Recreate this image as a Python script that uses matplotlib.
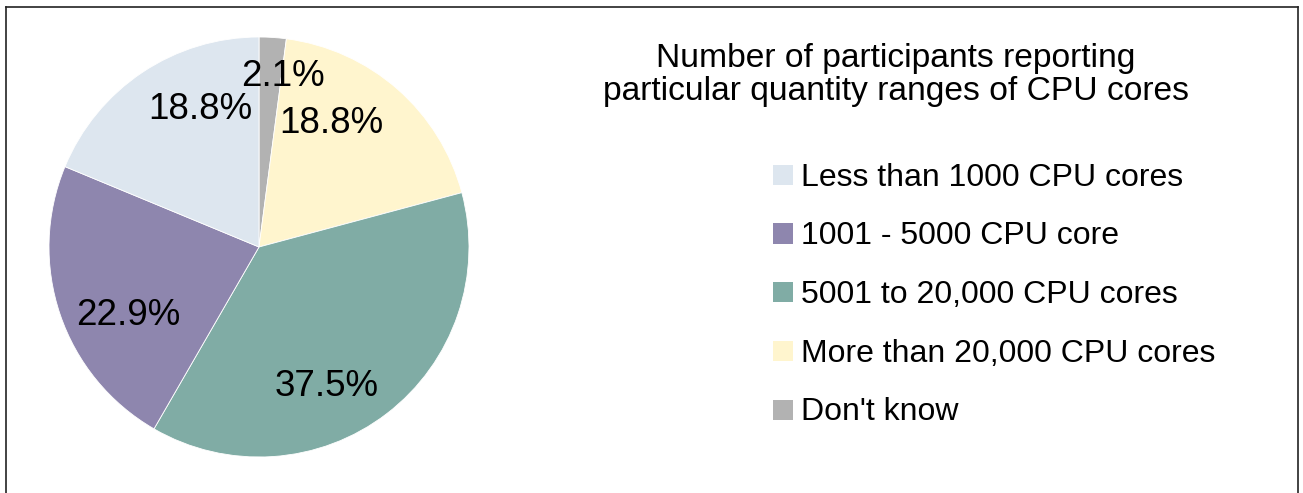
import matplotlib.pyplot as plt
import matplotlib.patches as patches
from matplotlib.lines import Line2D
import numpy as np

plt.rcParams['font.family'] = ['Liberation Sans', 'DejaVu Sans']

# Survey answers (number of participants), in clockwise order from 12 o'clock
slice_labels = ["Don't know", "More than 20,000 CPU cores", "5001 to 20,000 CPU cores",
                "1001 - 5000 CPU core", "Less than 1000 CPU cores"]
slice_counts = [1, 9, 18, 11, 9]
slice_colors = ["#b2b2b2", "#fff5ce", "#80aca5", "#8e86ae", "#dde6ef"]

# Legend order
legend_labels = ["Less than 1000 CPU cores", "1001 - 5000 CPU core", "5001 to 20,000 CPU cores",
                 "More than 20,000 CPU cores", "Don't know"]

title = "Number of participants reporting\nparticular quantity ranges of CPU cores"

W, H = 1303, 493
fig = plt.figure(figsize=(W / 100, H / 100), dpi=100)

# frame around the chart (bottom edge falls outside the image)
bx0, bx1, by = 5.5 / W, 1297.5 / W, 1 - 6.5 / H
for xs, ys in [([bx0, bx0], [-0.1, by]), ([bx0, bx1], [by, by]), ([bx1, bx1], [by, -0.1])]:
    fig.add_artist(Line2D(xs, ys, color="#222222", lw=1.2, transform=fig.transFigure))

# pie: centre at (259, 247) px, radius 210 px
cx, cy, r = 259, 247, 210
ax = fig.add_axes([(cx - r) / W, (H - cy - r) / H, 2 * r / W, 2 * r / H])
wedges, _ = ax.pie(slice_counts, colors=slice_colors, startangle=90, counterclock=False,
                   radius=1, wedgeprops=dict(linewidth=0.6, edgecolor="white"))
ax.set_xlim(-1, 1)
ax.set_ylim(-1, 1)
ax.set_aspect("equal")
ax.axis("off")

# percentage labels: placed relative to each wedge's mid angle
total = sum(slice_counts)
label_dist = [0.83, 0.69, 0.73, 0.70, 0.72]
label_turn = [4.1, -11.4, 11.5, -8.1, 10.8]   # degrees, clockwise shift from mid angle
for w, n, d, t in zip(wedges, slice_counts, label_dist, label_turn):
    mid = 0.5 * (w.theta1 + w.theta2) - t
    a = np.deg2rad(mid)
    ax.text(d * np.cos(a), d * np.sin(a) - 0.008, f"{100 * n / total:.1f}%",
            ha="center", va="center", fontsize=26.5, color="black")

# title
fig.text(896 / W, 1 - 75 / H, title, ha="center", va="center", fontsize=24.2,
         linespacing=1.1, color="black")

# legend
row_y = [175, 233.5, 292, 351, 409.5]
colors_by_label = dict(zip(slice_labels, slice_colors))
for lab, yy in zip(legend_labels, row_y):
    fig.add_artist(patches.Rectangle((773 / W, 1 - (yy + 10) / H), 20 / W, 20 / H,
                                     facecolor=colors_by_label[lab], edgecolor="none",
                                     transform=fig.transFigure))
    fig.text(801 / W, 1 - (yy + 3) / H, lab, ha="left", va="center", fontsize=23, color="black")

fig.savefig("out.png", dpi=100)
